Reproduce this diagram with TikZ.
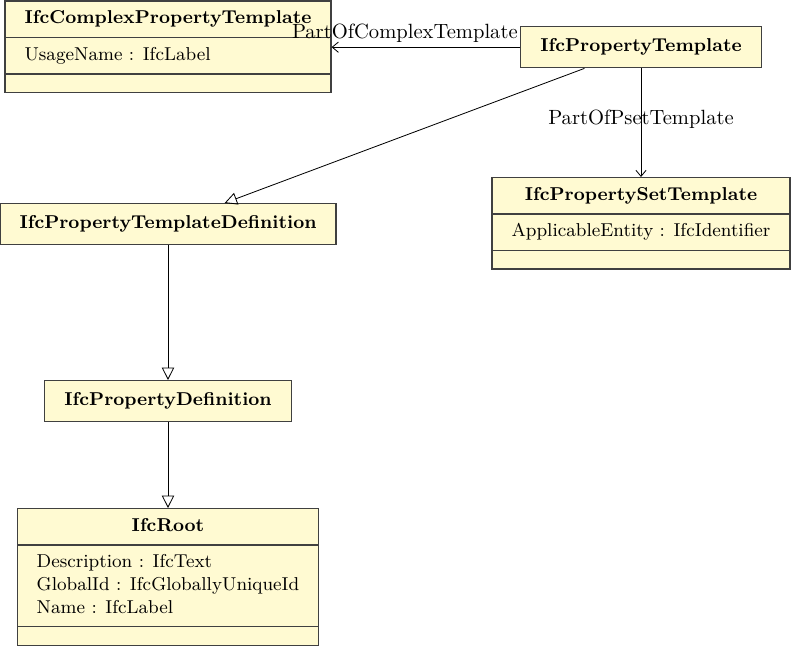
\documentclass[tikz,border=0pt]{standalone}
\usetikzlibrary{shapes.multipart, arrows.meta}
\definecolor{classfill}{RGB}{255,250,210}
\newcommand{\classfont}{\fontsize{9.05pt}{11pt}\selectfont}
\newcommand{\umlstrut}{\rule[-2.1pt]{0pt}{8.7pt}}
\newcommand{\emptypart}{\rule{1pt}{0pt}}
\tikzset{
umlclass/.style={rectangle split, rectangle split parts=3, draw=black!75, line width=0.6pt,
  fill=classfill, inner xsep=9.5pt, inner ysep=4.2pt, font=\classfont,
  rectangle split part align={center,left,left}, anchor=north},
umlsimple/.style={rectangle, draw=black!75, line width=0.6pt, fill=classfill,
  inner xsep=9.5pt, minimum height=20pt, anchor=north, font=\classfont\bfseries},
assoc/.style={-{Straight Barb[length=3pt,width=5pt]}, line width=0.4pt},
inherit/.style={-{Triangle[open,length=6pt,width=6pt]}, line width=0.4pt}
}
\begin{document}
\begin{tikzpicture}[x=0.01707cm, y=-0.01707cm]
\useasboundingbox (0,0) rectangle (791,649);
\node[umlclass] (complex) at (168,0.5) {\umlstrut\textbf{IfcComplexPropertyTemplate} \nodepart{two} \umlstrut UsageName : IfcLabel \nodepart{three} \emptypart};
\node[umlsimple] (ptemplate) at (641,26) {IfcPropertyTemplate};
\node[umlclass] (psettemplate) at (641,177) {\umlstrut\textbf{IfcPropertySetTemplate} \nodepart{two} \umlstrut ApplicableEntity : IfcIdentifier \nodepart{three} \emptypart};
\node[umlsimple] (ptdef) at (168,203) {IfcPropertyTemplateDefinition};
\node[umlsimple] (pdef) at (168,380) {IfcPropertyDefinition};
\node[umlclass] (root) at (168,508) {\umlstrut\textbf{IfcRoot} \nodepart{two} \vbox{\hbox{\umlstrut Description : IfcText}\hbox{GlobalId : IfcGloballyUniqueId}\hbox{\umlstrut Name : IfcLabel}} \nodepart{three} \emptypart};
\draw[assoc] (ptemplate.west) -- node[pos=0, anchor=south east, inner xsep=1pt, inner ysep=2pt] {PartOfComplexTemplate} (ptemplate.west -| complex.east);
\draw[assoc] (ptemplate) -- node[pos=0.47] {PartOfPsetTemplate} (psettemplate);
\draw[inherit] (ptemplate) -- (ptdef);
\draw[inherit] (ptdef) -- (pdef);
\draw[inherit] (pdef) -- (root);
\end{tikzpicture}
\end{document}
